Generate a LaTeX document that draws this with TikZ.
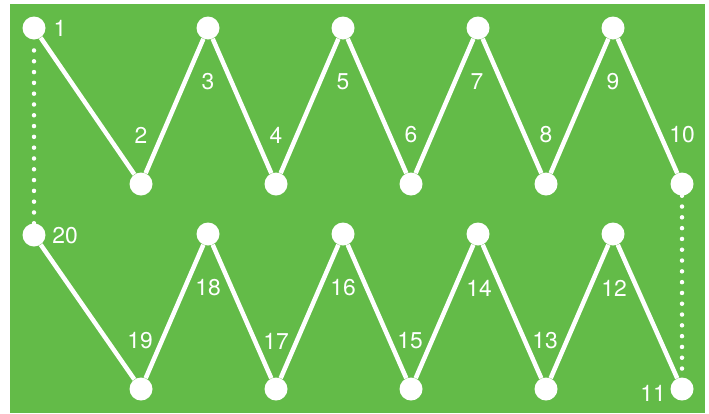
\documentclass[tikz,border=0pt]{standalone}
\usepackage{fontspec}
\setmainfont{TeX Gyre Heros}
\definecolor{prato}{RGB}{99,187,72}
\tikzset{
    punto/.style={circle, fill=white, inner sep=0pt, minimum size=23*0.03cm},
    numero/.style={text=white, inner sep=0pt, font=\fontsize{19.5}{22}\selectfont},
    tratto/.style={white, line width=4.5*0.03cm},
    puntini/.style={white, line width=4.5*0.03cm, line cap=round, dash pattern=on 0pt off 10.8*0.03cm}
}
\begin{document}
\begin{tikzpicture}[x=0.03cm, y=-0.03cm]

    % Sfondo
    \useasboundingbox (0,0) rectangle (709,413);
    \fill[prato] (10,4) rectangle (705,413);

    % Punti, fila superiore
    \node[punto] (n1) at (34,28) {};
    \node[punto] (n2) at (141,184) {};
    \node[punto] (n3) at (208,28) {};
    \node[punto] (n4) at (276,184) {};
    \node[punto] (n5) at (343,28) {};
    \node[punto] (n6) at (411,184) {};
    \node[punto] (n7) at (478,28) {};
    \node[punto] (n8) at (546,184) {};
    \node[punto] (n9) at (613,28) {};
    \node[punto] (n10) at (682,184) {};

    % Punti, fila inferiore
    \node[punto] (n11) at (682,389) {};
    \node[punto] (n12) at (613,234) {};
    \node[punto] (n13) at (546,389) {};
    \node[punto] (n14) at (478,234) {};
    \node[punto] (n15) at (411,389) {};
    \node[punto] (n16) at (343,234) {};
    \node[punto] (n17) at (276,389) {};
    \node[punto] (n18) at (208,234) {};
    \node[punto] (n19) at (141,389) {};
    \node[punto] (n20) at (34,235) {};

    % Zig-zag
    \draw[tratto] (n1) -- (n2) -- (n3) -- (n4) -- (n5) -- (n6) -- (n7) -- (n8) -- (n9) -- (n10);
    \draw[tratto] (n11) -- (n12) -- (n13) -- (n14) -- (n15) -- (n16) -- (n17) -- (n18) -- (n19) -- (n20);

    % Linee tratteggiate
    \draw[puntini] (n10) -- (n11);
    \draw[puntini] (n20) -- (n1);

    % Numeri
    \node[numero] (l1) at (60,28) {1};
    \node[numero] (l2) at (141,135) {2};
    \node[numero] (l3) at (208,82) {3};
    \node[numero] (l4) at (276,135) {4};
    \node[numero] (l5) at (343,82) {5};
    \node[numero] (l6) at (411,135) {6};
    \node[numero] (l7) at (477,82) {7};
    \node[numero] (l8) at (546,135) {8};
    \node[numero] (l9) at (613,82) {9};
    \node[numero] (l10) at (682,135) {10};
    \node[numero] (l11) at (653,393) {11};
    \node[numero] (l12) at (614,288) {12};
    \node[numero] (l13) at (545,341) {13};
    \node[numero] (l14) at (479,288) {14};
    \node[numero] (l15) at (410,341) {15};
    \node[numero] (l16) at (343,288) {16};
    \node[numero] (l17) at (276,341) {17};
    \node[numero] (l18) at (208,288) {18};
    \node[numero] (l19) at (140,341) {19};
    \node[numero] (l20) at (65,236) {20};

\end{tikzpicture}
\end{document}
